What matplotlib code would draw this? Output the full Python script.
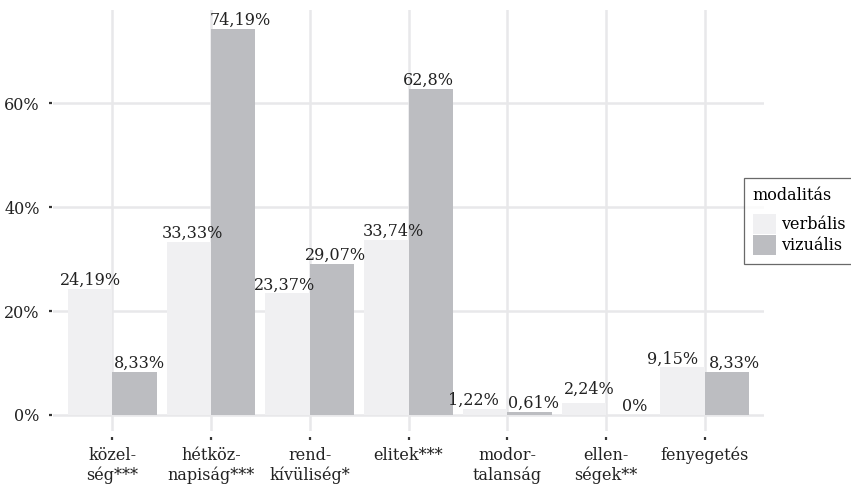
import numpy as np
import matplotlib
matplotlib.use("Agg")
import matplotlib.pyplot as plt
from matplotlib.patches import Patch

categories = ["közel-\nség***", "hétköz-\nnapiság***", "rend-\nkívüliség*", "elitek***",
              "modor-\ntalanság", "ellen-\nségek**", "fenyegetés"]
verbalis = [24.19, 33.33, 23.37, 33.74, 1.22, 2.24, 9.15]
vizualis = [8.33, 74.19, 29.07, 62.8, 0.61, 0.0, 8.33]
verbalis_txt = ["24,19%", "33,33%", "23,37%", "33,74%", "1,22%", "2,24%", "9,15%"]
vizualis_txt = ["8,33%", "74,19%", "29,07%", "62,8%", "0,61%", "0%", "8,33%"]

# label nudges (pixels) to mimic the repelled labels
verb_dx = [0, 4, -3, 7, -12, 6, -10]
verb_dy = [0, 0, 0, 0, 0, 6, 0]
viz_dx = [5, 7, 4, -2, 4, 6, 7]
viz_dy = [0, 0, 0, 0, 0, 0, 0]

col_verb = "#f0f0f2"
col_viz = "#bcbdc1"
grid_col = "#e8e8ea"

plt.rcParams["font.family"] = ["DejaVu Serif"]
fs = 11.5

fig = plt.figure(figsize=(8.51, 4.88), dpi=100)
ax = fig.add_axes([53 / 851, 1 - 431 / 488, 711 / 851, 421 / 488])

x = np.arange(len(categories))
w = 0.45
ax.bar(x - w / 2, verbalis, width=w, color=col_verb, zorder=2)
ax.bar(x + w / 2, vizualis, width=w, color=col_viz, zorder=2)

for i in range(len(categories)):
    ax.annotate(verbalis_txt[i], (x[i] - w / 2, verbalis[i]), xytext=(verb_dx[i], verb_dy[i]),
                textcoords="offset pixels", ha="center", va="bottom", fontsize=fs, color="#222222", zorder=3)
    ax.annotate(vizualis_txt[i], (x[i] + w / 2, vizualis[i]), xytext=(viz_dx[i], viz_dy[i]),
                textcoords="offset pixels", ha="center", va="bottom", fontsize=fs, color="#222222", zorder=3)

ax.set_xlim(-0.6, 6.6)
ax.set_ylim(-3.08, 77.9)

ax.grid(True, color=grid_col, linewidth=1.8, zorder=0)
ax.set_axisbelow(True)
for s in ax.spines.values():
    s.set_visible(False)
ax.spines["bottom"].set_position(("outward", 4))
ax.spines["left"].set_position(("outward", 1))
ax.tick_params(axis="both", direction="out", length=2.5, width=1.6, color="#333333",
               labelcolor="#222222", labelsize=fs)
ax.tick_params(axis="x", pad=5)
ax.tick_params(axis="y", pad=6)

ax.set_xticks(x)
ax.set_xticklabels(categories, linespacing=1.2)
ax.set_yticks([0, 20, 40, 60])
ax.set_yticklabels(["0%", "20%", "40%", "60%"])

handles = [Patch(facecolor=col_verb, edgecolor="none"), Patch(facecolor=col_viz, edgecolor="none")]
leg = fig.legend(handles, ["verbális", "vizuális"], title="modalitás", loc="upper left",
                 bbox_to_anchor=(744 / 851, 1 - 178 / 488), fontsize=fs, title_fontsize=fs,
                 frameon=True, fancybox=False, edgecolor="#444444", handlelength=1.45,
                 handleheight=1.55, labelspacing=0.1, handletextpad=0.3, borderpad=0.55,
                 borderaxespad=0)
leg._legend_box.align = "left"
leg._legend_box.sep = 7
leg.get_frame().set_linewidth(0.9)

fig.savefig("out.png", dpi=100)
